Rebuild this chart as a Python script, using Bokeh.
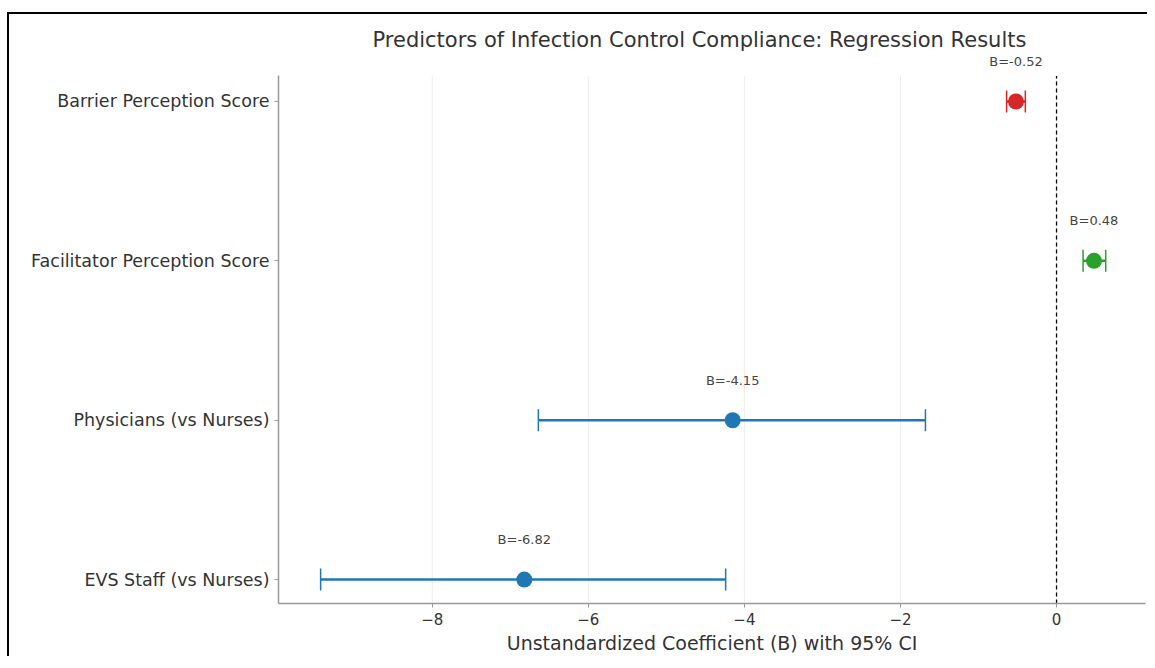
from bokeh.plotting import figure
from bokeh.models import Range1d, Label, FixedTicker, ColumnDataSource
from bokeh.embed import file_html
from bokeh.resources import INLINE

predictors = ["EVS Staff (vs Nurses)", "Physicians (vs Nurses)",
              "Facilitator Perception Score", "Barrier Perception Score"]
coef = [-6.82, -4.15, 0.48, -0.52]
ci_low = [-9.43, -6.64, 0.34, -0.64]
ci_high = [-4.24, -1.68, 0.63, -0.40]
colors = ["#1f77b4", "#1f77b4", "#2ca02c", "#d62728"]
x_ticks = [-8, -6, -4, -2, 0]

FONT = "DejaVu Sans"
ypos = list(range(len(predictors)))
y_lo, y_hi = -0.15, 3.16

p = figure(width=1147, height=656, output_backend="svg", toolbar_location=None,
           x_range=Range1d(-9.97, 1.14), y_range=Range1d(y_lo, 3.32),
           min_border_left=278, min_border_right=2, min_border_top=50,
           min_border_bottom=53)
p.border_fill_alpha = 0
p.styles = {
    "background": ("linear-gradient(#000,#000) 7px 12px / 2px 100% no-repeat, "
                   "linear-gradient(#000,#000) 7px 12px / calc(100% - 7px) 2px no-repeat, #fff"),
}

p.title.text = "Predictors of Infection Control Compliance: Regression Results"
p.title.align = "left"
p.title.offset = 94
p.title.text_font = FONT
p.title.text_font_size = "21px"
p.title.text_font_style = "normal"
p.title.text_color = "#333333"
p.title.standoff = -2

src = ColumnDataSource(dict(y=ypos, b=coef, lo=ci_low, hi=ci_high, c=colors))

grid_src = ColumnDataSource(dict(x=x_ticks, y0=[y_lo] * len(x_ticks), y1=[y_hi] * len(x_ticks)))
p.segment(x0="x", x1="x", y0="y0", y1="y1", source=grid_src, line_color="#eeeeee", line_width=1)
p.segment(x0=[0], x1=[0], y0=[y_lo], y1=[y_hi], line_color="black", line_dash="4 3", line_width=1.3)

p.segment(x0="lo", x1="hi", y0="y", y1="y", source=src, line_color="c", line_width=2.5)
p.rect(x="lo", y="y", width=1.5, height=22, width_units="screen", height_units="screen",
       source=src, fill_color="c", line_color=None)
p.rect(x="hi", y="y", width=1.5, height=22, width_units="screen", height_units="screen",
       source=src, fill_color="c", line_color=None)
p.scatter(x="b", y="y", source=src, size=16, fill_color="c", line_color=None)

for b, y in zip(coef, ypos):
    p.add_layout(Label(x=b, y=y, y_offset=40, text=f"B={b:.2f}", text_align="center",
                       text_baseline="middle", text_font=FONT, text_font_size="13px",
                       text_color="#444444"))

p.xaxis.ticker = FixedTicker(ticks=x_ticks)
p.xaxis.major_label_overrides = {t: ("\u2212" + str(-t) if t < 0 else str(t)) for t in x_ticks}
p.yaxis.ticker = FixedTicker(ticks=ypos)
p.yaxis.major_label_overrides = {i: n for i, n in enumerate(predictors)}
p.yaxis.bounds = (y_lo, y_hi)
p.xaxis.axis_label = "Unstandardized Coefficient (B) with 95% CI"
p.xaxis.axis_label_text_font = FONT
p.xaxis.axis_label_text_font_size = "19px"
p.xaxis.axis_label_text_font_style = "normal"
p.xaxis.axis_label_text_color = "#333333"
p.xaxis.axis_label_standoff = 4
for ax in (p.xaxis, p.yaxis):
    ax.major_label_text_font = FONT
    ax.major_label_text_font_size = "15px"
    ax.major_label_text_color = "#333333"
    ax.axis_line_color = "#999999"
    ax.axis_line_width = 1.5
    ax.major_tick_line_color = "#999999"
    ax.major_tick_in = 0
    ax.major_tick_out = 4
    ax.minor_tick_line_color = None
    ax.major_label_standoff = 5
p.yaxis.major_label_text_font_size = "17.5px"

p.xgrid.grid_line_color = None
p.ygrid.grid_line_color = None
p.outline_line_color = None

open("out.html", "w").write(file_html(p, INLINE))
